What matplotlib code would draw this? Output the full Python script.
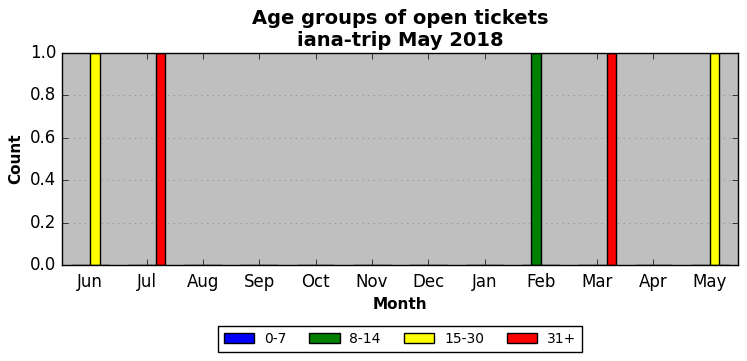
import matplotlib
matplotlib.use("Agg")
import matplotlib.pyplot as plt
import numpy as np

plt.style.use('classic')
plt.rcParams['font.family'] = ['DejaVu Sans']

months = ['Jun', 'Jul', 'Aug', 'Sep', 'Oct', 'Nov', 'Dec', 'Jan', 'Feb', 'Mar', 'Apr', 'May']
groups = ['0-7', '8-14', '15-30', '31+']
colors = ['blue', 'green', 'yellow', 'red']
g0_7 = [0, 0, 0, 0, 0, 0, 0, 0, 0, 0, 0, 0]
g8_14 = [0, 0, 0, 0, 0, 0, 0, 0, 1, 0, 0, 0]
g15_30 = [1, 0, 0, 0, 0, 0, 0, 0, 0, 0, 0, 1]
g31p = [0, 1, 0, 0, 0, 0, 0, 0, 0, 1, 0, 0]
series = [g0_7, g8_14, g15_30, g31p]

fig = plt.figure(figsize=(7.47, 3.61), dpi=100, facecolor='white')
ax = fig.add_axes([62/747, 1-265/361, (738-62)/747, (265-53)/361])
ax.set_facecolor('#bfbfbf')

x = np.arange(len(months))
w = 0.167
for i, (vals, c, g) in enumerate(zip(series, colors, groups)):
    ax.bar(x + (i - 2) * w, vals, width=w, align='edge', color=c,
           edgecolor='black', linewidth=1, label=g)

ax.set_xlim(-0.5, len(months) - 0.5)
ax.set_ylim(0, 1.0)
ax.set_xticks(x)
ax.set_xticklabels(months)
ax.set_yticks(np.arange(0, 1.01, 0.2))
ax.yaxis.grid(True, linestyle=':', color='#888888')
ax.set_axisbelow(True)
ax.tick_params(labelsize=12)
ax.tick_params(axis='x', pad=6)
ax.set_xlabel('Month', fontweight='bold', fontsize=11, labelpad=4)
ax.set_ylabel('Count', fontweight='bold', fontsize=11)
ax.set_title('Age groups of open tickets\niana-trip May 2018', fontweight='bold', fontsize=14)

leg = ax.legend(loc='upper center', bbox_to_anchor=(0.5, -0.257), ncol=4,
                fontsize=10, frameon=True, fancybox=False, handlelength=2.2,
                handletextpad=0.7, columnspacing=1.65, borderpad=0.4)
leg.get_frame().set_edgecolor('black')

fig.savefig('out.png', dpi=100, facecolor='white')
